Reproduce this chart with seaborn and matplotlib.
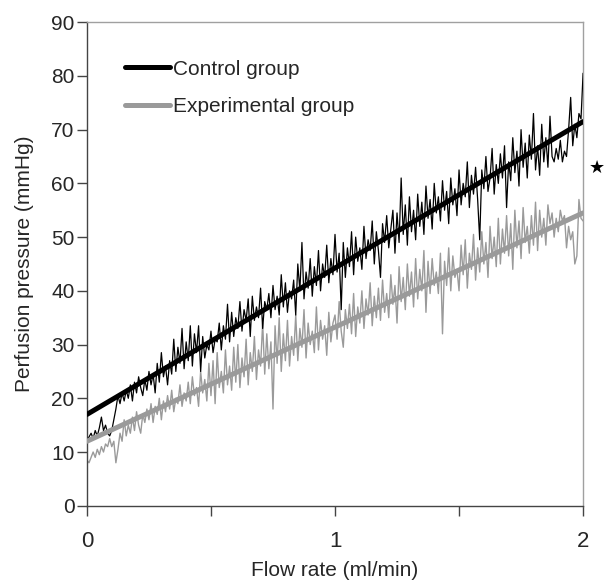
import numpy as np
import pandas as pd
import matplotlib
matplotlib.use("Agg")
import matplotlib.pyplot as plt
import seaborn as sns
from matplotlib.lines import Line2D

# ---- data ----
control_pressure = [
    12.0, 12.8, 13.5, 12.5, 14.0, 13.0, 14.5, 16.5, 14.0, 15.0,
    13.5, 13.0, 14.0, 16.0, 18.0, 20.5, 19.0, 21.0, 19.5, 21.5,
    20.0, 22.5, 19.5, 23.0, 21.0, 24.0, 22.0, 20.5, 23.5, 21.5,
    25.0, 22.5, 24.5, 21.0, 26.5, 23.0, 28.5, 24.0, 26.0, 22.5,
    27.0, 24.5, 31.0, 25.0, 29.5, 26.5, 33.0, 25.5, 30.5, 27.0,
    33.5, 26.0, 32.0, 28.5, 33.5, 25.0, 31.5, 27.5, 30.0, 29.0,
    32.5, 28.5, 31.0, 30.5, 34.0, 29.0, 33.5, 31.0, 37.5, 30.5,
    36.0, 31.5, 35.0, 33.0, 38.0, 32.5, 36.5, 34.5, 38.5, 31.5,
    39.0, 34.5, 37.0, 35.0, 40.5, 33.0, 38.0, 36.5, 39.5, 35.0,
    41.0, 36.5, 39.0, 35.5, 43.0, 37.0, 41.5, 36.0, 40.0, 38.5,
    42.0, 35.5, 45.0, 40.0, 49.0, 38.5, 43.5, 40.5, 46.0, 39.0,
    44.5, 41.0, 47.5, 40.0, 45.0, 42.5, 48.5, 41.5, 46.0, 43.0,
    50.5, 43.5, 47.0, 36.5, 49.0, 42.5, 48.0, 44.5, 51.0, 43.0,
    50.0, 45.5, 48.0, 44.0, 52.0, 46.0, 49.5, 47.5, 53.0, 45.0,
    51.0, 47.5, 42.5, 52.5, 49.0, 54.0, 48.0, 51.5, 55.0, 47.0,
    54.5, 49.0, 61.0, 50.5, 56.0, 48.5, 57.5, 51.0, 55.0, 49.5,
    58.0, 52.0, 56.5, 50.5, 59.5, 53.5, 57.0, 51.5, 60.0, 54.5,
    57.5, 53.0, 60.5, 55.0, 58.5, 52.5, 61.0, 56.0, 59.0, 54.0,
    62.5, 56.0, 60.0, 57.5, 64.0, 55.5, 61.5, 58.0, 63.0, 57.0,
    49.5, 62.5, 59.0, 65.0, 58.5, 61.0, 66.5, 58.0, 63.5, 60.0,
    65.5, 61.0, 67.0, 55.5, 64.0, 60.5, 68.5, 62.0, 66.0, 59.5,
    70.0, 63.0, 67.5, 61.0, 69.0, 64.5, 73.0, 62.5, 67.0, 61.5,
    71.0, 64.0, 68.5, 63.0, 72.5, 65.0, 64.0, 66.5, 64.5, 68.0,
    64.0, 66.0, 65.0, 70.0, 76.0, 67.0, 71.0, 68.5, 73.0, 72.0,
    80.5,
]
experimental_pressure = [
    8.5, 8.0, 9.0, 10.0, 9.0, 10.5, 9.5, 11.0, 10.0, 11.5,
    11.0, 12.5, 11.0, 12.0, 8.0, 10.5, 13.5, 12.0, 16.0, 13.0,
    15.0, 13.5, 16.5, 14.0, 17.5, 15.0, 13.5, 17.0, 15.5, 18.0,
    16.0, 19.0, 15.5, 18.5, 17.0, 20.0, 16.0, 19.5, 17.5, 20.5,
    18.0, 21.5, 17.5, 20.0, 19.0, 22.5, 18.5, 21.0, 19.5, 23.0,
    19.0, 24.0, 20.5, 22.0, 18.5, 25.0, 21.0, 23.5, 19.5, 26.5,
    20.5, 27.0, 19.0, 28.5, 22.0, 25.0, 21.0, 29.0, 22.5, 26.0,
    21.5, 29.5, 23.0, 30.0, 22.0, 27.5, 24.0, 31.0, 22.5, 28.5,
    25.0, 31.5, 23.5, 29.0, 26.0, 34.0, 24.5, 32.0, 25.5, 30.5,
    18.0, 33.5, 26.5, 35.0, 25.0, 32.0, 27.0, 34.5, 26.0, 31.5,
    28.0, 35.5, 27.0, 33.0, 29.5, 36.5, 27.5, 34.0, 30.0, 32.5,
    28.5, 37.0, 29.0, 34.5, 31.0, 33.5, 28.0, 36.0, 30.5, 34.0,
    35.5, 31.0, 38.0, 32.5, 29.5, 36.5, 33.0, 37.5, 32.0, 39.5,
    31.5, 37.0, 34.0, 40.0, 33.0, 38.5, 35.5, 41.5, 33.5, 39.0,
    35.0, 40.5, 34.5, 42.0, 36.0, 39.5, 35.0, 43.0, 37.5, 41.0,
    34.0, 44.5, 38.0, 42.5, 36.5, 45.0, 39.0, 43.5, 37.0, 46.0,
    38.5, 44.0, 40.0, 47.5, 36.0, 45.5, 39.5, 46.0, 41.0, 43.5,
    39.5, 47.0, 32.0, 45.5, 41.0, 48.0, 40.0, 46.5, 42.5, 44.0,
    40.0, 48.5, 43.0, 49.5, 40.5, 47.0, 44.0, 50.5, 42.0, 48.0,
    43.5, 51.0, 45.0, 49.0, 42.5, 52.0, 46.0, 50.0, 44.5, 53.5,
    45.0, 51.5, 47.0, 54.0, 46.5, 52.5, 44.0, 55.0, 48.0, 53.0,
    46.0, 55.5, 49.0, 52.0, 47.0, 54.0, 48.5, 56.5, 47.5, 55.0,
    50.0, 53.5, 48.5, 56.0, 52.5, 54.5, 50.0, 53.5, 51.0, 55.0,
    53.0, 54.0, 48.0, 52.0, 49.5, 51.0, 45.0, 46.5, 57.0, 53.5,
    53.0,
]
flow_rate = np.linspace(0, 2, len(control_pressure))

fit_flow = [0.0, 2.0]
control_fit = [17.0, 71.5]
experimental_fit = [12.0, 54.5]

series_names = ["Control group", "Experimental group"]
y_ticks = [0, 10, 20, 30, 40, 50, 60, 70, 80, 90]
x_ticks = [0, 1, 2]
x_minor_ticks = [0.5, 1.5]

# ---- styling ----
sns.set_style("white")
plt.rcParams["font.family"] = ["Liberation Sans", "DejaVu Sans"]

BLACK = "#000000"
GREY = "#9a9a9a"
FS = 15

fig = plt.figure(figsize=(6.08, 5.84), dpi=100)
ax = fig.add_axes([0.143, 0.134, 0.816, 0.828])

df = pd.DataFrame({
    "flow": np.concatenate([flow_rate, flow_rate]),
    "pressure": np.concatenate([control_pressure, experimental_pressure]),
    "group": [series_names[0]] * len(flow_rate) + [series_names[1]] * len(flow_rate),
})
sns.lineplot(data=df[df.group == series_names[1]], x="flow", y="pressure",
             color=GREY, linewidth=1.0, ax=ax, legend=False, zorder=2)
sns.lineplot(data=df[df.group == series_names[0]], x="flow", y="pressure",
             color=BLACK, linewidth=0.9, ax=ax, legend=False, zorder=3)

fit_df = pd.DataFrame({
    "flow": fit_flow + fit_flow,
    "pressure": control_fit + experimental_fit,
    "group": [series_names[0]] * 2 + [series_names[1]] * 2,
})
sns.lineplot(data=fit_df[fit_df.group == series_names[1]], x="flow", y="pressure",
             color=GREY, linewidth=3.6, ax=ax, legend=False, zorder=4)
sns.lineplot(data=fit_df[fit_df.group == series_names[0]], x="flow", y="pressure",
             color=BLACK, linewidth=3.6, ax=ax, legend=False, zorder=5)

ax.set_xlim(0, 2)
ax.set_ylim(0, 90)
ax.set_yticks(y_ticks)
ax.set_yticklabels([str(t) for t in y_ticks], fontsize=FS)
ax.set_xticks(x_ticks)
ax.set_xticklabels([str(t) for t in x_ticks], fontsize=FS + 1)
ax.set_xticks(x_minor_ticks, minor=True)
ax.tick_params(axis="y", which="major", direction="out", length=7, width=1,
               color="#444444", pad=2, left=True)
ax.tick_params(axis="x", which="both", direction="out", length=7, width=1,
               color="#444444", pad=11, bottom=True)

for side in ["left", "bottom"]:
    ax.spines[side].set_color("#444444")
    ax.spines[side].set_linewidth(1.0)
for side in ["top", "right"]:
    ax.spines[side].set_color("#a0a0a0")
    ax.spines[side].set_linewidth(1.0)

ax.set_xlabel("Flow rate (ml/min)", fontsize=FS, labelpad=7)
ax.set_ylabel("Perfusion pressure (mmHg)", fontsize=FS, labelpad=12)

handles = [Line2D([0], [0], color=BLACK, lw=3.6),
           Line2D([0], [0], color=GREY, lw=3.6)]
ax.legend(handles, series_names, loc="upper left", bbox_to_anchor=(0.06, 0.94),
          frameon=False, fontsize=FS, handlelength=2.15, handletextpad=0.15,
          labelspacing=0.9, borderaxespad=0)

fig.text(0.982, 0.712, "\u2605", fontsize=13, ha="center", va="center",
         family="DejaVu Sans", color=BLACK)

fig.savefig("out.png", dpi=100)
